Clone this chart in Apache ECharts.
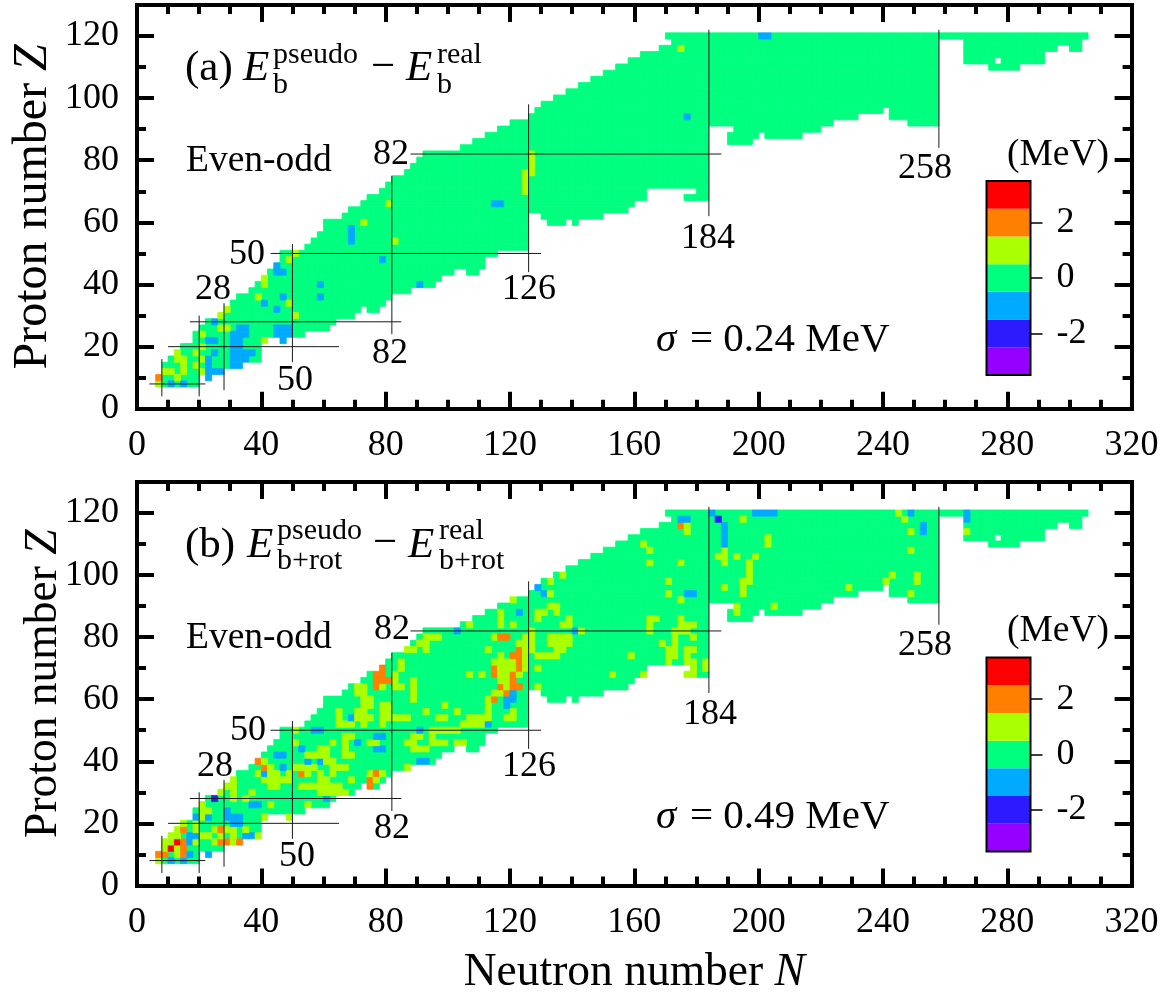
<!DOCTYPE html>
<html>
<head>
<meta charset="utf-8">
<style>
html,body{margin:0;padding:0;background:#fff}
#main{width:1163px;height:1002px}
</style>
<script src="https://cdn.jsdelivr.net/npm/echarts@6/dist/echarts.min.js"></script>
</head>
<body>
<div id="main"></div>
<script>
// colour band of each level -3..3
const levels = [-3,-2,-1,0,1,2,3];
const levelColors = ['#9500ff','#2e1aff','#00aaff','#00ff7f','#aaff00','#ff7f00','#ff0000'];

const xTicks = [0,40,80,120,160,200,240,280,320];
const yTicks = [0,20,40,60,80,100,120];
const barTicks = [-2,0,2];

// outline of the chart of nuclides: [Z, left edge, right edge] in N, cells are 2 wide
const outline = [
[8,6,20],[10,6,20],[10,22,24],[12,8,28],[14,8,34],[16,10,40],[18,12,40],[20,14,40],[22,18,42],[24,18,54],[26,20,62],
[28,22,64],[30,26,70],[32,28,72],[32,74,78],[34,30,80],[36,32,82],[38,36,88],[40,38,96],[42,40,98],
[44,42,102],[44,106,110],[46,44,112],[48,46,112],[50,46,116],[52,54,126],[54,56,126],[56,58,126],[58,60,126],
[60,60,126],[60,132,138],[60,140,142],[62,66,126],[62,130,150],[64,68,158],[66,72,160],[68,74,164],[68,176,184],
[70,78,164],[70,180,184],[72,80,184],[74,82,184],[76,86,184],[78,88,184],[80,90,184],[82,92,184],[84,104,184],
[86,108,184],[86,190,198],[88,112,184],[88,190,200],[88,202,214],[90,116,184],[90,192,220],[92,120,224],[92,248,258],
[94,126,232],[94,242,258],[96,128,240],[96,242,258],[98,130,258],[100,134,258],[102,138,258],[104,142,258],
[106,146,258],[108,150,258],[110,154,258],[110,274,284],[112,158,258],[112,266,276],[112,278,292],
[114,162,258],[114,266,292],[116,168,258],[116,266,296],[116,300,304],[118,172,258],[118,266,304],[120,170,306]
];

// cells off zero, each row is [Z, N, N, ...]
const aOrange = [[10,7]];
const aYellow = [[8,7],[10,13],[12,9,11,15,21],[14,15,19],[16,13,15,21],[18,13,19],[20,21],[22,41],[24,21],[26,27,29],
[30,27,51],[32,29],[34,49],[36,39],[40,41],[42,41],[48,49],[50,51],[54,83],[60,73],[66,81],[70,125],[72,125],[74,125],
[76,125,127],[78,127],[80,127],[82,127],[116,175]];
const aBlue = [[8,11,15],[10,23],[12,23,25,27],[14,23,31,33],[16,23,31,33,35],[18,25,31,33,35,37],[20,31,33],
[22,23,25,31,33,47],[24,31,33,35,45,47,49],[26,33,35,45,47,49],[28,25],[32,45],[34,41],[36,47,59],[40,59,91],
[44,45,47],[46,45],[48,79],[54,69],[56,69],[58,69],[66,115,117],[94,177],[120,201,203]];

const bRed = [[12,11],[14,13]];
const bOrange = [[10,7,9,15],[12,15],[14,15,27,29,33],[18,15,27],[32,75],[34,75],[36,53,77],[38,41],[40,39],[60,115],[62,119],
[64,77,117,121,123],[66,77,79,81,121],[68,77,79,115,121],[70,79,115,123],[72,123],[74,121,123],[76,123],[80,117,119],[116,175]];
const bYellow = [[8,7],[10,13],[12,9,13],[14,9,11,19,25,31],[16,11,13,21,23,27,31,39],[18,13,19,25,29,31,35],[20,15,19],
[22,21,41,49],[24,21,23],[26,21,43,55],[28,31,35],[30,27,31,37,59,61,63,65,67],[32,29,31,43,45,53,55,57,59,61,63,65],
[34,31,41,43,45,47,49,59,61,69,77],[36,39,41,43,45,49,55,59,63,75,79],[38,43,51,53,55,57,63,65,67,87],[40,41,61,63],
[42,55,57,59,61,67,69],[44,59,61,67,89,91,93],[46,51,63,67,75,77,87,89,95,97,99,103,105],[48,67,69,89,91,95],
[50,51,95,97,99,101,103],[52,65,67,69,73,79,105,107,109,111],[54,65,71,73,75,79,81,83,85,87,97,99,107,109,111,113,119,121],
[56,65,71,73,79,81,93,103,113,121],[58,73,75,79,81,99,113],[60,73,75,89,113],[62,71,73,89,115,117],[64,71,73,79,83,85,89,119,129],
[66,83,89,117,119],[68,83,107,111,117,119,123,153,163,177,179],[70,85,117,119,121,125,129,179,183],[72,85,115,117,119,121,125,171,177,179,183],
[74,117,125,129,131,133,135,159,171,173,177],[76,87,89,93,113,125,127,135,137,171,173,177,179],[78,91,93,123,125,127,133,135,137,139,169,173],
[80,93,95,97,115,125,127,133,135,137,139,173,179],[82,127,143,165,173,175,177],[84,107,117,121,137,139,165,175,177,179],
[86,117,129,139,165,167,175],[88,117,129,131,135,193],[90,133,135,193,205],[92,121,175],[94,133,171,195,249],
[96,189,195,229],[98,133,171,195,197,241,251],[100,137,197,243,251],[102,197],[104,165,175,189,197],[106,187,189,193,199],
[108,165,189,249],[110,163,203],[112,203],[114,177,249,267],[116,177],[118,195,247],[120,245]];
const bBlue = [[8,11,15],[10,17,23],[14,17],[16,17,19,35,37],[20,31,33],[22,19,23,29,31,33],[24,29],[26,37,39],[28,61],
[36,41],[38,47],[40,55,59,91,93],[42,45,47],[44,53,77,79],[46,71],[48,77,79],[50,57,59,91],[52,113],[54,69],[58,119],[60,119,121],[62,121],
[82,103,141],[88,123],[94,131,177,179],[96,129],[110,189],[112,189],[114,189,253],[116,189,253],[118,175,177,267],[120,185,199,201,203,205,249,267]];
const bDark = [[28,25],[118,187]];

// magic number guide lines: [value, from, to]
const guideVerticalN = [[8,4,16],[20,4,30],[28,6,34],[50,15,53],[82,24,75],[126,44,98],[184,62,122],[258,84,122]];
const guideHorizontalZ = [[8,4,22],[20,10,65],[28,17,85],[50,43,130],[82,88,188]];

function buildCells(rows, lists) {
  const map = new Map();
  rows.forEach(function (r) {
    for (let k = r[1]; k < r[2]; k += 2) map.set((k + 1) + '_' + r[0], [k + 1, r[0], 0]);
  });
  lists.forEach(function (l) {
    l[0].forEach(function (row) {
      for (let i = 1; i < row.length; i++) map.set(row[i] + '_' + row[0], [row[i], row[0], l[1]]);
    });
  });
  return Array.from(map.values());
}
const cellsA = buildCells(outline, [[aYellow,1],[aOrange,2],[aBlue,-1]]);
const cellsB = buildCells(outline, [[bYellow,1],[bOrange,2],[bRed,3],[bBlue,-1],[bDark,-2]]);

const serif = '"Liberation Serif","Times New Roman",serif';
const black = '#000';

function renderCell(params, api) {
  const N = api.value(0), Z = api.value(1), lv = api.value(2);
  const a = api.coord([N - 1, Z + 1]), b = api.coord([N + 1, Z - 1]);
  const c = levelColors[lv + 3];
  return {type:'rect', z2:lv === 0 ? 0 : 1, shape:{x:a[0], y:a[1], width:b[0]-a[0], height:b[1]-a[1]},
    style:{fill:c, stroke:c, lineWidth:0.8}};
}
function renderBand(params, api) {
  const lv = api.value(0);
  const a = api.coord([0, lv + 0.5]), b = api.coord([1, lv - 0.5]);
  return {type:'rect', shape:{x:a[0], y:a[1], width:b[0]-a[0], height:b[1]-a[1]}, style:{fill:levelColors[lv + 3]}};
}

const option = {
  animation:false,
  backgroundColor:'#fff',
  textStyle:{fontFamily:serif,color:black},
  grid:[
    {left:137,top:4.9,width:994.6,height:403.9,outerBoundsMode:'none'},
    {left:137,top:482,width:994.6,height:403.4,outerBoundsMode:'none'},
    {left:986.5,top:181,width:44,height:194,show:true,borderColor:black,borderWidth:2,backgroundColor:'transparent',z:5,outerBoundsMode:'none'},
    {left:986.5,top:657.5,width:44,height:194,show:true,borderColor:black,borderWidth:2,backgroundColor:'transparent',z:5,outerBoundsMode:'none'}
  ],
  xAxis:[],yAxis:[],series:[],graphic:[]
};

function addPanel(g, cells, yNameGap, yNameSize, xName) {
  const xBase = {gridIndex:g,type:'value',min:0,max:320,interval:40,
    axisLine:{onZero:false,lineStyle:{color:black,width:4,cap:'square'}},
    axisTick:{inside:true,length:17,lineStyle:{color:black,width:4}},
    minorTick:{show:true,splitNumber:4,length:9,lineStyle:{color:black,width:4}},
    splitLine:{show:false},minorSplitLine:{show:false}};
  const xi = option.xAxis.length;
  option.xAxis.push(Object.assign({},xBase,{position:'bottom',
    axisLabel:{show:true,margin:19,fontFamily:serif,fontSize:36,color:black,customValues:xTicks},
    name:xName,nameLocation:'middle',nameGap:65,nameMoveOverlap:false,
    nameTextStyle:{rich:{a:{fontFamily:serif,fontSize:45.5,color:black},b:{fontFamily:serif,fontSize:45.5,fontStyle:'italic',color:black}}}}));
  option.xAxis.push(Object.assign({},xBase,{position:'top',axisLabel:{show:false}}));
  const yBase = {gridIndex:g,type:'value',min:0,max:130,
    axisLine:{onZero:false,lineStyle:{color:black,width:4,cap:'square'}},
    splitLine:{show:false}};
  const yi = option.yAxis.length;
  const shortTick = {inside:true,length:9,lineStyle:{color:black,width:4}};
  const longTick = {inside:true,length:17,lineStyle:{color:black,width:4},customValues:yTicks};
  option.yAxis.push(Object.assign({},yBase,{position:'left',interval:10,axisTick:shortTick,
    axisLabel:{show:true,margin:18,padding:[2,0,0,0],fontFamily:serif,fontSize:36,color:black,customValues:yTicks},
    name:'{a|Proton number }{b|Z}',nameLocation:'middle',nameGap:yNameGap,nameRotate:90,nameMoveOverlap:false,
    nameTextStyle:{rich:{a:{fontFamily:serif,fontSize:yNameSize,color:black},b:{fontFamily:serif,fontSize:yNameSize,fontStyle:'italic',color:black}}}}));
  option.yAxis.push(Object.assign({},yBase,{position:'left',interval:10,axisTick:longTick,axisLabel:{show:false}}));
  option.yAxis.push(Object.assign({},yBase,{position:'right',interval:10,axisTick:shortTick,axisLabel:{show:false}}));
  option.yAxis.push(Object.assign({},yBase,{position:'right',interval:10,axisTick:longTick,axisLabel:{show:false}}));

  option.series.push({type:'custom',coordinateSystem:'cartesian2d',xAxisIndex:xi,yAxisIndex:yi,
    renderItem:renderCell,data:cells,progressive:0,silent:true,z:1,clip:true});

  const guideStyle = {color:'#1a1a1a',width:1};
  guideVerticalN.forEach(function (m) {
    option.series.push({type:'line',xAxisIndex:xi,yAxisIndex:yi,data:[[m[0],m[1]],[m[0],m[2]]],
      showSymbol:false,silent:true,lineStyle:guideStyle,z:3});
  });
  guideHorizontalZ.forEach(function (m) {
    option.series.push({type:'line',xAxisIndex:xi,yAxisIndex:yi,data:[[m[1],m[0]],[m[2],m[0]]],
      showSymbol:false,silent:true,lineStyle:guideStyle,z:3});
  });
}

function addBar(g) {
  const xi = option.xAxis.length, yi = option.yAxis.length;
  option.xAxis.push({gridIndex:g,type:'value',min:0,max:1,show:false});
  option.yAxis.push({gridIndex:g,type:'value',min:-3.5,max:3.5,position:'right',z:6,
    axisLine:{show:true,onZero:false,lineStyle:{color:black,width:1}},
    axisTick:{show:true,length:12,lineStyle:{color:black,width:1.5},customValues:barTicks},
    axisLabel:{show:true,margin:26,padding:[6,0,0,0],fontFamily:serif,fontSize:36,color:black,customValues:barTicks},
    splitLine:{show:false}});
  option.series.push({type:'custom',coordinateSystem:'cartesian2d',xAxisIndex:xi,yAxisIndex:yi,
    renderItem:renderBand,data:levels.map(function (v) { return [v]; }),encode:{y:0},silent:true,z:4});
}

addPanel(0,cellsA,80,48,'');
addPanel(1,cellsB,70,45.5,'{a|Neutron number }{b|N}');
addBar(2);
addBar(3);

// text annotations
function txt(x,y,s,size,opts) {
  opts = opts || {};
  option.graphic.push({type:'text',x:x,y:y,z:20,silent:true,style:{text:s,
    font:(opts.italic?'italic ':'')+size+'px '+serif,fill:black,
    textAlign:opts.align||'left',textVerticalAlign:'middle'}});
}
function mag(x,y,s) { txt(x,y+2,s,36,{align:'center'}); }

[[391,153,'82'],[247,253,'50'],[213,288,'28'],[295,379,'50'],[390,352,'82'],[529,288,'126'],[708,237,'184'],[925,167,'258'],
 [392,628,'82'],[248,729,'50'],[215,765,'28'],[297,855,'50'],[392,827,'82'],[529,765,'126'],[710,713,'184'],[925,644,'258']]
 .forEach(function (m) { mag(m[0],m[1],m[2]); });

txt(185,69,'(a)',43);
txt(243,69,'E',43,{italic:true});
txt(273,55,'pseudo',30);
txt(273,85,'b',30);
txt(371,68,'\u2212',43);
txt(406,69,'E',43,{italic:true});
txt(437,55,'real',30);
txt(437,85,'b',30);

txt(185,546,'(b)',43);
txt(247,546,'E',43,{italic:true});
txt(277,531,'pseudo',30);
txt(277,561,'b+rot',30);
txt(373,544,'\u2212',43);
txt(408,546,'E',43,{italic:true});
txt(439,531,'real',30);
txt(439,561,'b+rot',30);

txt(186,161,'Even-odd',37.5);
txt(186,638,'Even-odd',37.5);

txt(656,340,'\u03c3',41,{italic:true});
txt(690,340,'= 0.24 MeV',41);
txt(656,817,'\u03c3',41,{italic:true});
txt(690,817,'= 0.49 MeV',41);

txt(1007,155,'(MeV)',37.5);
txt(1007,631,'(MeV)',37.5);

const chart = echarts.init(document.getElementById('main'),null,{renderer:'canvas'});
chart.setOption(option);
</script>
</body>
</html>
